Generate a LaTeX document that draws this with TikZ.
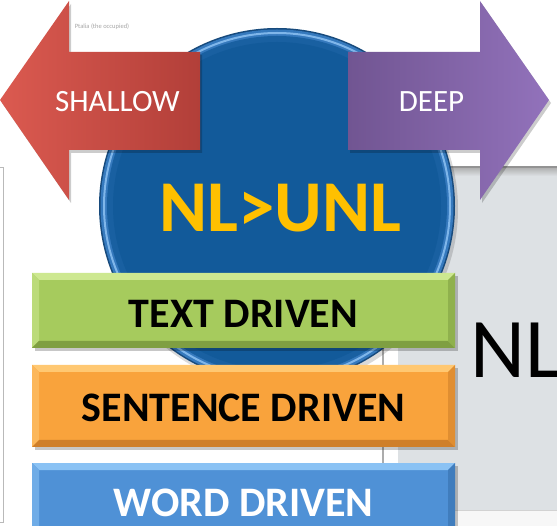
\documentclass[tikz,border=0pt]{standalone}
\usepackage{fontspec}
\setmainfont{Carlito}
\definecolor{panelgray}{HTML}{DDE1E4}
\definecolor{circedge}{HTML}{174A7C}
\definecolor{circring}{HTML}{3579BD}
\definecolor{circhl}{HTML}{7FB6EA}
\definecolor{circbody}{HTML}{125A9A}
\definecolor{redL}{HTML}{DB5A50}
\definecolor{redR}{HTML}{B23F39}
\definecolor{purL}{HTML}{715592}
\definecolor{purR}{HTML}{9272BB}
\definecolor{nlyellow}{HTML}{FFC000}
\definecolor{gMain}{HTML}{A6CB5D}
\definecolor{gLight}{HTML}{CDE890}
\definecolor{gDark}{HTML}{7F9F42}
\definecolor{oMain}{HTML}{F9A33C}
\definecolor{oLight}{HTML}{FFC872}
\definecolor{oDark}{HTML}{CF7F2A}
\definecolor{bMain}{HTML}{4F91D6}
\definecolor{bLight}{HTML}{8AC2F4}
\definecolor{bDark}{HTML}{3670AD}
\newcommand\bevbox[5]{%
  \fill[black,opacity=0.22] (35,#1+3) rectangle (458,#2+3);
  \fill[#3] (32,#1) rectangle (455,#2);
  \fill[#4] (32,#1) -- (455,#1) -- (448,#1+7) -- (39,#1+7) -- cycle;
  \fill[#4!55!#3] (32,#1) -- (39,#1+7) -- (39,#2-7) -- (32,#2) -- cycle;
  \fill[#5] (32,#2) -- (39,#2-7) -- (448,#2-7) -- (455,#2) -- cycle;
  \fill[#5!60!#3] (455,#1) -- (455,#2) -- (448,#2-7) -- (448,#1+7) -- cycle;
}
\tikzset{
  arrowtxt/.style={text=white, inner sep=0pt, font=\fontsize{31}{31}\selectfont},
  boxtxt/.style={inner sep=0pt, font=\fontsize{42}{42}\selectfont\bfseries},
}
\begin{document}
\begin{tikzpicture}[x=1pt,y=-1pt]
\useasboundingbox (0,0) rectangle (557,526);
\clip (0,0) rectangle (557,526);
\fill[white] (0,0) rectangle (557,526);
% background window panel
\fill[panelgray] (398,167) rectangle (557,510);
\shade[top color=gray!65, bottom color=panelgray] (398,167) rectangle (557,176);
\draw[gray!85, line width=1.2pt] (398,167) -- (557,167);
\fill[gray!6] (398,510) rectangle (557,526);
\draw[gray!35, line width=1pt] (398,510) -- (557,510);
\draw[gray!65, line width=1.5pt] (383,167) -- (383,526);
% left frame
\draw[gray!55, line width=1pt] (0,168) -- (3,168) -- (3,522) -- (0,522);
\node[inner sep=0pt, text=gray!70, font=\fontsize{6.5}{6.5}\selectfont] (cap) at (102,27) {Ptalia (the occupied)};
% circle
\fill[black, opacity=0.15] (279,209) circle[radius=179pt];
\fill[circedge] (277,206) circle[radius=178pt];
\fill[circring] (277,206) circle[radius=176.5pt];
\draw[circhl, line width=2pt] (277,206) circle[radius=173pt];
\fill[circbody!80!circring] (277,206) circle[radius=170pt];
\fill[circbody] (277,206) circle[radius=164pt];
\node[inner sep=0pt, text=nlyellow, font=\fontsize{73}{73}\selectfont\bfseries] (nl) at (280,208.5) {NL>UNL};
% arrows
\fill[black, opacity=0.2] (2,103) -- (71,4) -- (71,55) -- (202,55) -- (202,153) -- (71,153) -- (71,203) -- cycle;
\shade[left color=redL, right color=redR] (0,100) -- (69,1) -- (69,52) -- (200,52) -- (200,150) -- (69,150) -- (69,200) -- cycle;
\node[arrowtxt] (shallow) at (117.5,102) {SHALLOW};
\fill[black, opacity=0.2] (350,55) -- (482,55) -- (482,4) -- (551,103) -- (482,203) -- (482,153) -- (350,153) -- cycle;
\shade[left color=purL, right color=purR] (348,52) -- (480,52) -- (480,1) -- (549,100) -- (480,200) -- (480,150) -- (348,150) -- cycle;
\node[arrowtxt] (deep) at (431.5,102) {DEEP};
% boxes
\bevbox{273}{348}{gMain}{gLight}{gDark}
\node[boxtxt, text=black] (text) at (243.5,314) {TEXT DRIVEN};
\bevbox{365}{447}{oMain}{oLight}{oDark}
\node[boxtxt, text=black] (sent) at (243.5,408) {SENTENCE DRIVEN};
\bevbox{463}{545}{bMain}{bLight}{bDark}
\node[boxtxt, text=white] (word) at (243.5,503) {WORD DRIVEN};
% big NL (cut at the right edge, as in the reference)
\node[inner sep=0pt, anchor=base west, font=\fontsize{85}{85}\selectfont] (bignl) at (470,378) {NL};
\end{tikzpicture}
\end{document}
